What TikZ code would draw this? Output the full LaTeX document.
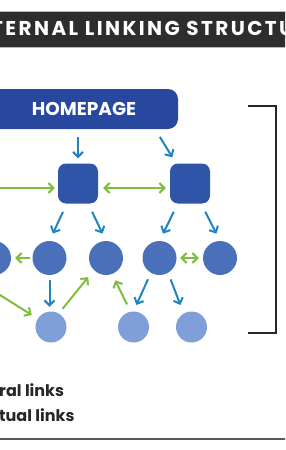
\documentclass[tikz,border=0pt]{standalone}
\usepackage{fontspec}
\setmainfont{Poppins}
\newfontfamily\titlefont[LetterSpace=12]{Poppins}
\usetikzlibrary{arrows.meta}

\definecolor{barblack}{HTML}{2D2D2D}
\definecolor{homeblue}{HTML}{2848A0}
\definecolor{pageblue}{HTML}{2F55A8}
\definecolor{midblue}{HTML}{4A70B9}
\definecolor{leafblue}{HTML}{809FD8}
\definecolor{linkblue}{HTML}{1F84C0}
\definecolor{linkgreen}{HTML}{7DBE3C}
\definecolor{inkgray}{HTML}{262626}

\begin{document}
\begin{tikzpicture}[x=1pt, y=-1pt, >={Straight Barb[length=5pt,width=10pt]},
    homebox/.style={fill=homeblue, rounded corners=10pt, minimum width=188pt,
        minimum height=40pt, inner sep=0pt, text=white,
        font=\fontsize{18.5}{20}\selectfont\bfseries},
    pagebox/.style={fill=pageblue, rounded corners=8pt, minimum size=40pt, inner sep=0pt},
    midpage/.style={circle, fill=midblue, minimum size=34pt, inner sep=0pt},
    leafpage/.style={circle, fill=leafblue, minimum size=31pt, inner sep=0pt},
    tree/.style={->, linkblue, line width=2pt, shorten <=7pt, shorten >=7pt},
    ctx/.style={->, linkgreen, line width=2pt, shorten <=4pt, shorten >=4pt},
    keytext/.style={anchor=base west, inner sep=0pt, text=inkgray,
        font=\fontsize{16}{18}\selectfont\bfseries}]
    \useasboundingbox (0,0) rectangle (285,450);
    \clip (0,0) rectangle (285,450);

    % title bar
    \draw[draw=gray!55, fill=barblack] (-2,11) rectangle (287,47);
    \node[anchor=base west, inner sep=0pt, text=white,
        font=\titlefont\fontsize{20}{22}\selectfont\bfseries] (title) at (-9,35)
        {TERNAL LINKING STRUCTU};

    % pages
    \node[homebox] (home) at (84,109) {HOMEPAGE};
    \node[pagebox] (sq1) at (78,183.5) {};
    \node[pagebox] (sq2) at (190,183.5) {};
    \foreach \name/\x in {mid1/-6, mid2/49.5, mid3/106, mid4/159.5, mid5/220}
        \node[midpage] (\name) at (\x,258) {};
    \foreach \name/\x in {leaf1/51, leaf2/133.5, leaf3/191.5}
        \node[leafpage] (\name) at (\x,327) {};

    % hierarchical links
    \draw[tree, shorten <=8pt, shorten >=5pt] (home.south -| sq1.north) -- (sq1.north);
    \draw[tree, shorten <=9pt] ([xshift=-23pt]home.south east) -- ([xshift=-14pt]sq2.north);
    \draw[tree, shorten <=9pt, shorten >=8pt] ([xshift=9pt]sq1.south west) -- (mid2.north);
    \draw[tree, shorten <=9pt, shorten >=8pt] ([xshift=-10pt]sq1.south east) -- (mid3.north);
    \draw[tree, shorten <=9pt, shorten >=8pt] ([xshift=8pt]sq2.south west) -- (mid4.north);
    \draw[tree, shorten <=9pt, shorten >=8pt] ([xshift=-9pt]sq2.south east) -- (mid5.north);
    \draw[tree, shorten <=5pt, shorten >=4.5pt] (mid2.south) -- (mid2.south |- leaf1.north);
    \draw[tree] (mid4.240) -- (leaf2.north);
    \draw[tree, shorten >=9pt] (mid4.300) -- (leaf3.120);

    % contextual links
    \coordinate (leftin) at (-30,188);
    \coordinate (leftcross) at (-20,282.5);
    \draw[ctx, shorten >=3pt] (leftin) -- ([yshift=-4.5pt]sq1.west);
    \draw[ctx, <->, shorten <=5pt] ([yshift=-4.5pt]sq1.east) -- ([yshift=-4.5pt]sq2.west);
    \draw[ctx, shorten <=2.5pt] (mid2.west) -- (mid1.east);
    \draw[ctx, <->, shorten <=3.5pt] (mid4.east) -- (mid5.west);
    \draw[ctx, shorten >=7pt] (leftcross) -- (leaf1.148);
    \draw[ctx, shorten <=6pt, shorten >=9pt] (leaf1.60) -- (mid3.225);
    \draw[ctx, shorten <=8pt, shorten >=7pt] (leaf2.101) -- (mid3.291);

    % bracket and key
    \draw[inkgray, line width=2pt] (248,106) -- (276,106) -- (276,333) -- (248,333);
    \node[keytext] (structural) at (-1,396) {ral links};
    \node[keytext] (contextual) at (-1,421) {tual links};
    \draw[gray!70!black, line width=1.5pt] (-2,439) -- (287,439);
\end{tikzpicture}
\end{document}
